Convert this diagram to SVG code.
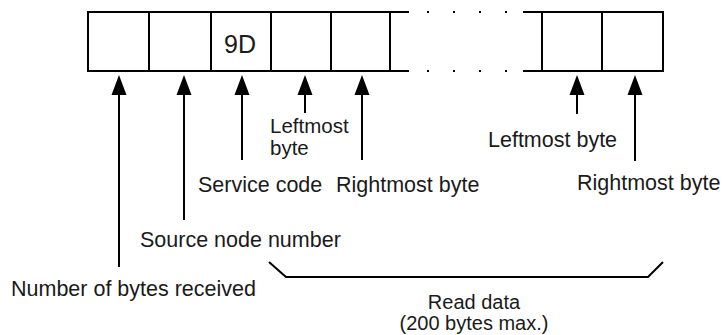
<svg xmlns="http://www.w3.org/2000/svg" width="726" height="335" viewBox="0 0 726 335">
<style>
.cell{fill:#fff;stroke:#000;stroke-width:2}
.ln{stroke:#000;stroke-width:2;fill:none}
.dot{stroke:#000;stroke-width:2;stroke-linecap:butt}
.t{font-family:"Liberation Sans",Arial,sans-serif;font-size:21.5px;fill:#1a1a1a}
.t2{font-size:20.5px}
.t3{font-size:20px}
.head{fill:#000}
</style>
<rect width="726" height="335" fill="#fff"/>
<g id="frame">
  <g id="cell1"><rect class="cell" x="88" y="12" width="61" height="59"/></g>
  <g id="cell2"><rect class="cell" x="149" y="12" width="62" height="59"/></g>
  <g id="cell3"><rect class="cell" x="211" y="12" width="60" height="59"/>
    <text class="t" x="240" y="53" text-anchor="middle" style="font-size:25px">9D</text></g>
  <g id="cell4"><rect class="cell" x="271" y="12" width="60" height="59"/></g>
  <g id="cell5"><rect class="cell" x="331" y="12" width="59" height="59"/></g>
  <g id="cell6"><rect class="cell" x="542" y="12" width="60" height="59"/></g>
  <g id="cell7"><rect class="cell" x="602" y="12" width="61" height="59"/></g>
  <g id="gap">
    <path class="ln" d="M390 12H409M390 71H409M523 12H542M523 71H542"/>
    <path class="dot" d="M427 12H429M453 12H455M479 12H481M505 12H507M427 71H429M453 71H455M479 71H481M505 71H507"/>
  </g>
</g>
<g id="connectors">
  <path class="ln" d="M119 93V267M184 93V220M242 93V160M305 93V113M362 93V160M577 93V114M635 93V161"/>
  <polygon class="head" points="119,75 111.5,95 126.5,95"/>
  <polygon class="head" points="184,75 176.5,95 191.5,95"/>
  <polygon class="head" points="242,75 234.5,95 249.5,95"/>
  <polygon class="head" points="305,75 297.5,95 312.5,95"/>
  <polygon class="head" points="362,75 354.5,95 369.5,95"/>
  <polygon class="head" points="577,75 569.5,95 584.5,95"/>
  <polygon class="head" points="635,75 627.5,95 642.5,95"/>
  <path class="ln" d="M269 262L286 277H648L663 262"/>
</g>
<g id="labels">
  <g id="lbl-leftmost1"><text class="t t2" x="270" y="133">Leftmost</text><text class="t t2" x="270" y="155">byte</text></g>
  <g id="lbl-service"><text class="t" x="198" y="192">Service code</text></g>
  <g id="lbl-rightmost1"><text class="t" x="336" y="192">Rightmost byte</text></g>
  <g id="lbl-leftmost2"><text class="t" x="488" y="147">Leftmost byte</text></g>
  <g id="lbl-rightmost2"><text class="t" x="577" y="190">Rightmost byte</text></g>
  <g id="lbl-source"><text class="t" x="140" y="247">Source node number</text></g>
  <g id="lbl-bytes"><text class="t" x="11" y="296">Number of bytes received</text></g>
  <g id="lbl-read"><text class="t t3" x="474" y="309" text-anchor="middle">Read data</text><text class="t t3" x="474" y="330" text-anchor="middle">(200 bytes max.)</text></g>
</g>
</svg>
